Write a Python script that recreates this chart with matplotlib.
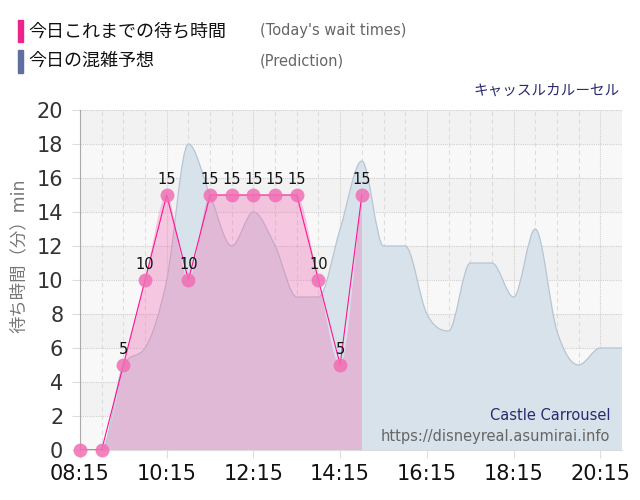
import numpy as np
import matplotlib.pyplot as plt
from matplotlib.path import Path
from matplotlib.patches import PathPatch, Rectangle

plt.rcParams['font.family'] = ['DejaVu Sans', 'Noto Sans CJK JP']

# today's observed wait times (every 30 min from 08:15)
act_times = ["08:15", "08:45", "09:15", "09:45", "10:15", "10:45", "11:15",
             "11:45", "12:15", "12:45", "13:15", "13:45", "14:15", "14:45"]
act_wait = [0, 0, 5, 10, 15, 10, 15, 15, 15, 15, 15, 10, 5, 15]

# predicted wait times
pred_times = ["08:15", "08:45", "09:15", "09:45", "10:15", "10:45", "11:15",
              "11:45", "12:15", "12:45", "13:15", "13:45", "14:15", "14:45",
              "15:15", "15:45", "16:15", "16:45", "17:15", "17:45", "18:15",
              "18:45", "19:15", "19:45", "20:15", "20:45"]
pred_wait = [0, 0, 5, 6, 10, 18, 15, 12, 14, 12, 9, 9, 13, 17,
             12, 12, 8, 7, 11, 11, 9, 13, 7, 5, 6, 6]

xtick_labels = ["08:15", "10:15", "12:15", "14:15", "16:15", "18:15", "20:15"]


def hours(t):
    h, m = t.split(":")
    return int(h) + int(m) / 60


def smooth_path(x, y, close=True):
    # monotone cubic, drawn as bezier segments
    x = np.asarray(x, float)
    y = np.asarray(y, float)
    n = len(x)
    dx = np.diff(x)
    d = np.diff(y) / dx
    m = np.zeros(n)
    m[0], m[-1] = d[0], d[-1]
    for i in range(1, n - 1):
        m[i] = 0 if d[i - 1] * d[i] <= 0 else (d[i - 1] + d[i]) / 2
    for i in range(n - 1):
        if d[i] == 0:
            m[i] = m[i + 1] = 0
            continue
        a, b = m[i] / d[i], m[i + 1] / d[i]
        s = a * a + b * b
        if s > 9:
            t = 3 / np.sqrt(s)
            m[i], m[i + 1] = t * a * d[i], t * b * d[i]
    verts = [(x[0], y[0])]
    codes = [Path.MOVETO]
    for i in range(n - 1):
        h = dx[i] / 3
        verts += [(x[i] + h, y[i] + m[i] * h), (x[i + 1] - h, y[i + 1] - m[i + 1] * h), (x[i + 1], y[i + 1])]
        codes += [Path.CURVE4] * 3
    if close:
        verts += [(x[-1], 0), (x[0], 0), (x[0], 0)]
        codes += [Path.LINETO, Path.LINETO, Path.CLOSEPOLY]
    return Path(verts, codes)


ax_x = [hours(t) for t in act_times]
px_x = [hours(t) for t in pred_times]

fig = plt.figure(figsize=(6.4, 5), dpi=100)
ax = fig.add_axes([80 / 640, 50 / 500, 542 / 640, 340 / 500])

x0, x1 = hours("08:15"), hours("20:45")
ax.set_xlim(x0, x1)
ax.set_ylim(0, 20)

# striped background
for k in range(0, 20, 2):
    ax.axhspan(k, k + 2, color="#f2f2f2" if (k // 2) % 2 == 1 else "#f8f8f8", lw=0, zorder=0)

# grid
for k in range(0, 21, 2):
    ax.axhline(k, color="#cfcfcf", lw=0.8, ls=(0, (1, 1)), zorder=0.5)
for t in np.arange(x0, x1 + 0.01, 0.5):
    major = abs(((t - x0) / 2) - round((t - x0) / 2)) < 1e-6
    ax.axvline(t, color="#d0d0d0" if major else "#dddddd", lw=0.8,
               ls=(0, (1, 1)) if major else (0, (4, 3)), zorder=0.5)

# prediction
ax.add_patch(PathPatch(smooth_path(px_x, pred_wait), facecolor="#d8e2ea", edgecolor="none", zorder=1))
ax.add_patch(PathPatch(smooth_path(px_x, pred_wait, close=False), facecolor="none", edgecolor="#b7c5d3", lw=0.9, zorder=1.1))

# today's wait times
ax.add_patch(PathPatch(smooth_path(ax_x, act_wait), facecolor="#f06eb4", alpha=0.35, edgecolor="none", zorder=2))
ax.plot(ax_x, act_wait, color="#ff1493", lw=0.8, zorder=3)
ax.plot(ax_x, act_wait, "o", ms=10, color="#f06eb4", alpha=0.85, mec="none", zorder=4, clip_on=False)
for xx, yy in zip(ax_x, act_wait):
    if yy > 0:
        ax.annotate(str(yy), (xx, yy), xytext=(0, 6), textcoords="offset points",
                    ha="center", va="bottom", fontsize=10.5, color="#111", zorder=5)

ax.set_xticks([hours(t) for t in xtick_labels])
ax.set_xticklabels(xtick_labels)
ax.set_yticks(range(0, 21, 2))
ax.tick_params(axis="x", length=6, color="#dddddd", labelsize=15, pad=4, labelcolor="#111")
ax.tick_params(axis="y", length=6, color="#dddddd", labelsize=15, pad=6, labelcolor="#333")
for s in ["top", "right"]:
    ax.spines[s].set_visible(False)
ax.spines["left"].set_color("#aaaaaa")
ax.spines["bottom"].set_color("#dddddd")

# legend / titles
fig.patches.append(Rectangle((18 / 640, 1 - 42 / 500), 5 / 640, 22 / 500, color="#f0208c", transform=fig.transFigure))
fig.patches.append(Rectangle((18 / 640, 1 - 73 / 500), 5 / 640, 23 / 500, color="#5f6fa0", transform=fig.transFigure))
fig.text(28 / 640, 1 - 31 / 500, "今日これまでの待ち時間", fontsize=13, va="center", color="#111")
fig.text(28 / 640, 1 - 61 / 500, "今日の混雑予想", fontsize=13, va="center", color="#111")
fig.text(260 / 640, 1 - 31 / 500, "(Today's wait times)", fontsize=10.5, va="center", color="#666")
fig.text(260 / 640, 1 - 61 / 500, "(Prediction)", fontsize=10.5, va="center", color="#666")
fig.text(620 / 640, 1 - 90 / 500, "キャッスルカルーセル", fontsize=10.5, ha="right", va="center", color="#2a2a70")
fig.text(19 / 640, 1 - 256 / 500, "待ち時間（分）min", fontsize=12.5, rotation=90, ha="center", va="center", color="#777")
fig.text(610 / 640, 1 - 415 / 500, "Castle Carrousel", fontsize=10.5, ha="right", va="center", color="#2a2a70")
fig.text(610 / 640, 1 - 436 / 500, "https://disneyreal.asumirai.info", fontsize=10.5, ha="right", va="center", color="#666")

fig.savefig("out.png", dpi=100)
